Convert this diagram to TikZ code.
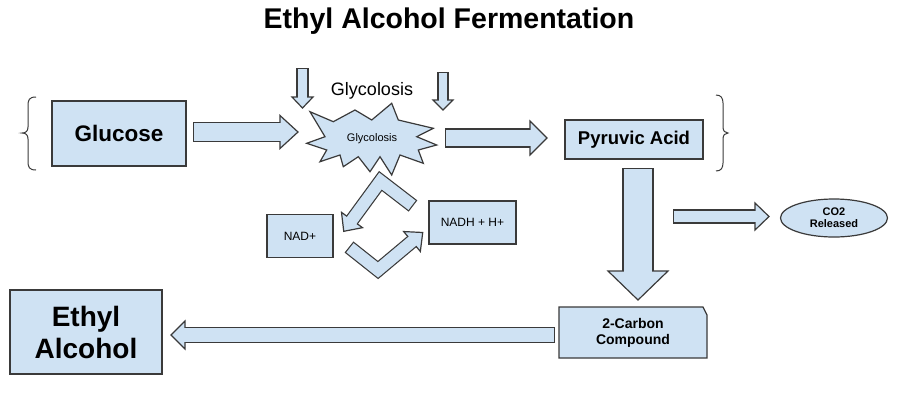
\documentclass[tikz,border=0pt]{standalone}
\usepackage{fontspec}
\setmainfont{Liberation Sans}
\usetikzlibrary{calc,shapes.geometric}
\definecolor{fl}{HTML}{CFE2F3}
\definecolor{bd}{HTML}{3A3A3A}
\newcommand\fsz[2]{\fontsize{#1}{#2}\selectfont}
% straight block arrow: start, head base, shaft half width, head half width, head length
\newcommand\barrow[5]{%
  \draw[line width={2*#3+1.2}, bd] (#1) -- (#2);
  \filldraw[fill=fl, draw=bd, line width=1.2pt, line join=miter]
    ($(#2)!#4pt!90:(#1)$) -- ($(#2)!-#5pt!(#1)$) -- ($(#2)!#4pt!-90:(#1)$) -- cycle;
  \draw[line width={2*#3-1.2}, fl, shorten <=1.2pt, shorten >=-2pt] (#1) -- (#2);
}
% bent block arrow: start, corner, head base, shaft hw, head hw, head length
\newcommand\bentarrow[6]{%
  \draw[line width={2*#4+1.2}, bd, line join=miter] (#1) -- (#2) -- (#3);
  \filldraw[fill=fl, draw=bd, line width=1.2pt, line join=miter]
    ($(#3)!#5pt!90:(#2)$) -- ($(#3)!-#6pt!(#2)$) -- ($(#3)!#5pt!-90:(#2)$) -- cycle;
  \draw[line width={2*#4-1.2}, fl, line join=miter, shorten <=1.2pt, shorten >=-2pt] (#1) -- (#2) -- (#3);
}
\begin{document}
\begin{tikzpicture}[x=1pt,y=-1pt,
  box/.style={draw=bd, fill=fl, line width=1.2pt, inner sep=0pt},
  txt/.style={inner sep=0pt, align=center, text=black},
  brace/.style={draw=bd, line width=1pt}]
\useasboundingbox (0,0) rectangle (900,400);
\fill[white] (0,0) rectangle (900,400);

% title
\node[txt, font=\fsz{28.5}{32}\bfseries] (title) at (449,21) {Ethyl Alcohol Fermentation};

% braces
\draw[brace] (36,97) .. controls (29,97) and (28,100) .. (28,106) -- (28,127)
  .. controls (28,131) and (26,133) .. (22,133) .. controls (26,133) and (28,135) .. (28,139)
  -- (28,161) .. controls (28,167) and (29,170) .. (36,170);
\draw[brace] (716,95) .. controls (721,95) and (723,98) .. (723,103) -- (723,127)
  .. controls (723,131) and (725,133) .. (728,133) .. controls (725,133) and (723,135) .. (723,139)
  -- (723,163) .. controls (723,168) and (721,171) .. (716,171);

% boxes
\node[box, minimum width=134pt, minimum height=65pt] (glu) at (119,133.5) {};
\node[txt, font=\fsz{22.5}{26}\bfseries] (glut) at (glu) {Glucose};
\node[box, minimum width=138pt, minimum height=39pt] (pyr) at (634,139.5) {};
\node[txt, font=\fsz{18.5}{22}\bfseries] (pyrt) at (pyr) {Pyruvic Acid};
\node[box, minimum width=66pt, minimum height=43pt] (nad) at (300,236) {};
\node[txt, font=\fsz{12}{14}] (nadt) at (nad) {NAD+};
\node[box, minimum width=87pt, minimum height=43pt] (nadh) at (472.5,222.5) {};
\node[txt, font=\fsz{12}{14}] (nadht) at (nadh) {NADH + H+};
\node[box, minimum width=152pt, minimum height=84pt] (eth) at (86,332) {};
\node[txt, font=\fsz{28}{32}\bfseries] (etht) at (eth) {Ethyl\\Alcohol};
\filldraw[draw=bd, fill=fl, line width=1.2pt] (559,307) -- (703,307) -- (707,315) -- (707,358) -- (559,358) -- cycle;
\node[txt, font=\fsz{14}{16}\bfseries] (cc) at (633,333) {2-Carbon\\Compound};
\node[draw=bd, fill=fl, line width=1.2pt, ellipse, minimum width=107pt, minimum height=38pt, inner sep=0pt] (co2) at (834,218) {};
\node[txt, font=\fsz{11}{12}\bfseries] (co2t) at (co2) {CO2\\Released};

% star
\filldraw[draw=bd, fill=fl, line width=1.2pt, line join=miter]
  (310,111.7) -- (333.3,121.7) -- (355,110) -- (371.7,120) -- (391.7,103.3) -- (398.3,120)
  -- (433.3,128.3) -- (416.7,136.7) -- (436.7,145) -- (418.3,150) -- (423.3,163.3) -- (400,155)
  -- (391.7,175) -- (380,156.7) -- (370,171.7) -- (358.3,156.7) -- (343.3,166.7) -- (340,155)
  -- (320,161.7) -- (326.7,150) -- (306.7,143.3) -- (325,136.7) -- cycle;
\node[txt, font=\fsz{11}{13}] (star) at (372,139) {Glycolosis};
\node[txt, font=\fsz{18}{20}, anchor=base] (glab) at (372,95) {Glycolosis};

% arrow coordinates
\coordinate (a1s) at (193,132);   \coordinate (a1e) at (280,132);
\coordinate (a2s) at (302.5,68);  \coordinate (a2e) at (302.5,97);
\coordinate (a3s) at (443,72);    \coordinate (a3e) at (443,100);
\coordinate (a4s) at (445,138);   \coordinate (a4e) at (530,138);
\coordinate (a5s) at (638,168);   \coordinate (a5e) at (638,271);
\coordinate (a6s) at (673,216.5); \coordinate (a6e) at (755,216.5);
\coordinate (a7s) at (555,335);   \coordinate (a7e) at (185,335);
\coordinate (b1s) at (413,206);   \coordinate (b1c) at (380.5,181); \coordinate (b1e) at (352,220);
\coordinate (b2s) at (349,247);   \coordinate (b2c) at (378,270);   \coordinate (b2e) at (412,241.5);

\barrow{a1s}{a1e}{9.5}{16.5}{18}
\barrow{a2s}{a2e}{5.5}{10.5}{11}
\barrow{a3s}{a3e}{5}{10}{10}
\barrow{a4s}{a4e}{9}{17}{17}
\barrow{a5s}{a5e}{15}{30}{29}
\barrow{a6s}{a6e}{6.5}{13.5}{14}
\barrow{a7s}{a7e}{7.5}{14}{14}
\bentarrow{b1s}{b1c}{b1e}{6.5}{13}{14}
\bentarrow{b2s}{b2c}{b2e}{6.5}{13}{14}
\end{tikzpicture}
\end{document}
